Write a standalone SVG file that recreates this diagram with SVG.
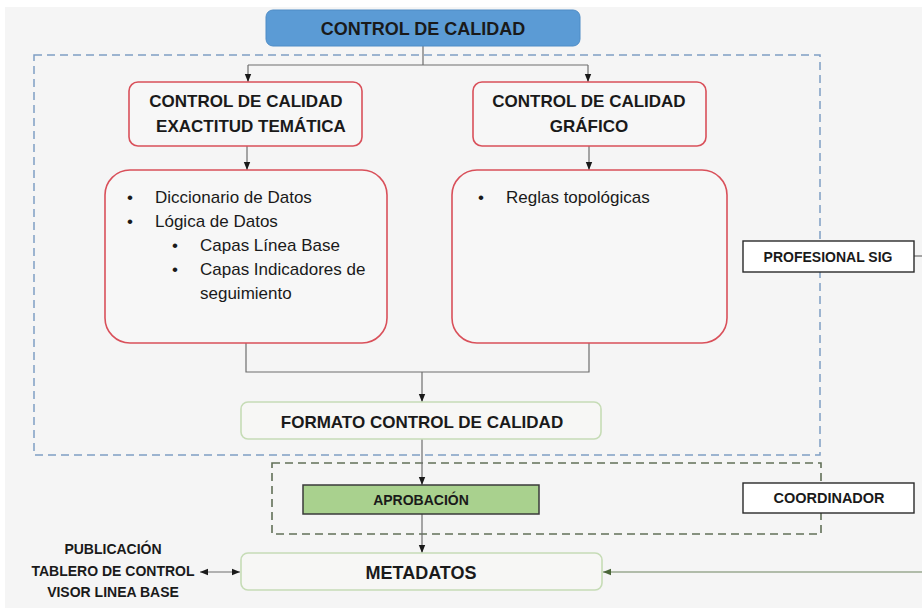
<svg xmlns="http://www.w3.org/2000/svg" width="922" height="608" viewBox="0 0 922 608">
<defs>
<marker id="ah" markerUnits="userSpaceOnUse" markerWidth="8" markerHeight="8" viewBox="0 0 8 8" refX="8" refY="4" orient="auto-start-reverse"><path d="M0,0.8 L8,4 L0,7.2 Z" fill="#1a1a1a"/></marker>
<marker id="ahg" markerUnits="userSpaceOnUse" markerWidth="8" markerHeight="8" viewBox="0 0 8 8" refX="8" refY="4" orient="auto"><path d="M0,0.8 L8,4 L0,7.2 Z" fill="#4a6638"/></marker>
<style>
.bg{fill:#f5f5f5}
.t{font-family:"Liberation Sans",Arial,sans-serif;fill:#1a1a1a}
.b{font-weight:bold}
.red{fill:#f7f7f7;stroke:#d9505a;stroke-width:1.6}
.lg{fill:#f7f7f5;stroke:#c6dcb6;stroke-width:1.6}
.role{fill:#ffffff;stroke:#2a2a2a;stroke-width:1.4}
.con{fill:none;stroke:#6e6e6e;stroke-width:1.2}
</style>
</defs>
<rect x="0" y="0" width="922" height="608" fill="#ffffff"/>
<rect class="bg" x="5" y="7" width="917" height="601"/>

<g id="group-profesional">
<rect x="34" y="55" width="786" height="400" fill="none" stroke="#7f9ec4" stroke-width="1.5" stroke-dasharray="8 5"/>
</g>
<g id="group-coordinador">
<rect x="272" y="463" width="549" height="71" fill="none" stroke="#627058" stroke-width="1.6" stroke-dasharray="8 5"/>
</g>

<g id="connectors">
<path class="con" d="M423,46 V65 M248,65 H588"/>
<path class="con" d="M248,65 V82" marker-end="url(#ah)"/>
<path class="con" d="M588,65 V82" marker-end="url(#ah)"/>
<path class="con" d="M247,146 V170" marker-end="url(#ah)"/>
<path class="con" d="M589,146 V170" marker-end="url(#ah)"/>
<path class="con" d="M246,343 V372 H589 V343"/>
<path class="con" d="M422,372 V402" marker-end="url(#ah)"/>
<path class="con" d="M422,439 V485" marker-end="url(#ah)"/>
<path class="con" d="M422,514 V553" marker-end="url(#ah)"/>
<path class="con" d="M200,572 H240" marker-start="url(#ah)" marker-end="url(#ah)"/>
<path d="M922,572 H603" fill="none" stroke="#9aa890" stroke-width="1.4" marker-end="url(#ahg)"/>
<path class="con" d="M914,256 H922"/>
</g>

<g id="n-control">
<rect x="266" y="10" width="314" height="36" rx="7" fill="#5b9bd5" stroke="#4e8cc6" stroke-width="1"/>
<text class="t b" x="423" y="35" font-size="18" text-anchor="middle">CONTROL DE CALIDAD</text>
</g>

<g id="n-tematica">
<rect class="red" x="129" y="82" width="233" height="64" rx="9"/>
<text class="t b" x="246" y="107" font-size="17" text-anchor="middle">CONTROL DE CALIDAD</text>
<text class="t b" x="251" y="132" font-size="17" text-anchor="middle">EXACTITUD TEMÁTICA</text>
</g>

<g id="n-grafico">
<rect class="red" x="473" y="82" width="233" height="64" rx="9"/>
<text class="t b" x="589" y="107" font-size="17" text-anchor="middle">CONTROL DE CALIDAD</text>
<text class="t b" x="589" y="132" font-size="17" text-anchor="middle">GRÁFICO</text>
</g>

<g id="n-lista-tematica">
<rect class="red" x="105" y="170" width="282" height="173" rx="25"/>
<g class="t" font-size="17">
<text x="127" y="203">•</text><text x="155" y="203">Diccionario de Datos</text>
<text x="127" y="227">•</text><text x="155" y="227">Lógica de Datos</text>
<text x="172" y="251">•</text><text x="200" y="251">Capas Línea Base</text>
<text x="172" y="275">•</text><text x="200" y="275">Capas Indicadores de</text>
<text x="200" y="299">seguimiento</text>
</g>
</g>

<g id="n-lista-grafico">
<rect class="red" x="452" y="170" width="275" height="173" rx="25"/>
<g class="t" font-size="17">
<text x="478" y="203">•</text><text x="506" y="203">Reglas topológicas</text>
</g>
</g>

<g id="n-formato">
<rect class="lg" x="241" y="402" width="360" height="37" rx="7"/>
<text class="t b" x="422" y="428" font-size="17" text-anchor="middle">FORMATO CONTROL DE CALIDAD</text>
</g>

<g id="n-aprobacion">
<rect x="303" y="485" width="236" height="29" fill="#a9d18e" stroke="#3a3a3a" stroke-width="1.5"/>
<text class="t b" x="421" y="505" font-size="14" text-anchor="middle">APROBACIÓN</text>
</g>

<g id="n-metadatos">
<rect class="lg" x="241" y="553" width="361" height="37" rx="7"/>
<text class="t b" x="421" y="579" font-size="18" text-anchor="middle">METADATOS</text>
</g>

<g id="n-publicacion">
<text class="t b" x="113" y="554" font-size="14" text-anchor="middle">PUBLICACIÓN</text>
<text class="t b" x="113" y="576" font-size="14" text-anchor="middle">TABLERO DE CONTROL</text>
<text class="t b" x="113" y="597" font-size="14" text-anchor="middle">VISOR LINEA BASE</text>
</g>

<g id="n-profesional-sig">
<rect class="role" x="743" y="241" width="171" height="31"/>
<text class="t b" x="828" y="262" font-size="14" text-anchor="middle">PROFESIONAL SIG</text>
</g>

<g id="n-coordinador">
<rect class="role" x="743" y="483" width="171" height="30"/>
<text class="t b" x="829" y="503" font-size="14.5" text-anchor="middle">COORDINADOR</text>
</g>
</svg>
